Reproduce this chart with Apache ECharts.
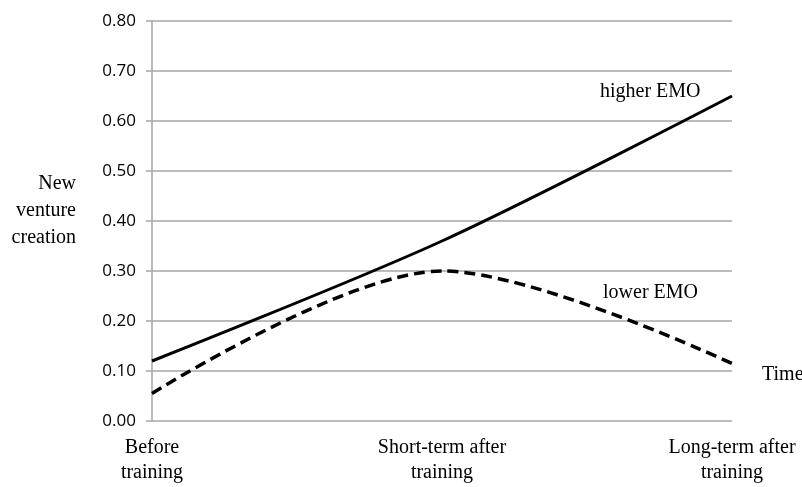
<!DOCTYPE html>
<html>
<head>
<meta charset="utf-8">
<script src="https://cdn.jsdelivr.net/npm/echarts@6/dist/echarts.min.js"></script>
<style>
  html, body { margin: 0; padding: 0; background: #fff; }
  #chart { width: 802px; height: 487px; }
</style>
</head>
<body>
<div id="chart"></div>
<script>
const categories = ['Before\ntraining', 'Short-term after\ntraining', 'Long-term after\ntraining'];
const higherEMO = [0.12, 0.36, 0.65];
const lowerEMO = [0.055, 0.30, 0.115];

const serif = '"Liberation Serif", "DejaVu Serif", serif';
const gridColor = '#a6a6a6';

const chart = echarts.init(document.getElementById('chart'), null, { renderer: 'canvas' });

const option = {
  animation: false,
  backgroundColor: '#fff',
  grid: { left: 152, right: 70, top: 21, bottom: 66 },
  xAxis: {
    type: 'category',
    data: categories,
    boundaryGap: false,
    axisLine: { show: false },
    axisTick: { show: false },
    axisLabel: {
      interval: 0,
      margin: 14,
      fontFamily: serif,
      fontSize: 20,
      lineHeight: 25,
      color: '#000'
    },
    splitLine: { show: false }
  },
  yAxis: {
    type: 'value',
    min: 0,
    max: 0.8,
    interval: 0.1,
    axisLine: { show: true, lineStyle: { color: gridColor, width: 1.5 } },
    axisTick: { show: true, length: 6, lineStyle: { color: gridColor, width: 1.5 } },
    axisLabel: {
      margin: 16,
      fontFamily: '"Open Sans", sans-serif',
      fontSize: 17,
      color: '#000',
      formatter: v => v.toFixed(2)
    },
    splitLine: { show: true, lineStyle: { color: gridColor, width: 1.5 } }
  },
  series: [
    {
      name: 'higher EMO',
      type: 'line',
      data: higherEMO,
      smooth: 0.3,
      symbol: 'none',
      lineStyle: { color: '#000', width: 3 }
    },
    {
      name: 'lower EMO',
      type: 'line',
      data: lowerEMO,
      smooth: 0.32,
      symbol: 'none',
      lineStyle: { color: '#000', width: 3.5, type: [11, 6] }
    }
  ],
  graphic: [
    {
      type: 'text', x: 76, y: 211,
      style: {
        text: 'New\nventure\ncreation', font: '20px ' + serif,
        fill: '#000', align: 'right', verticalAlign: 'middle', lineHeight: 27
      }
    },
    {
      type: 'text', x: 600, y: 92,
      style: { text: 'higher EMO', font: '20px ' + serif, fill: '#000', verticalAlign: 'middle' }
    },
    {
      type: 'text', x: 603, y: 293,
      style: { text: 'lower EMO', font: '20px ' + serif, fill: '#000', verticalAlign: 'middle' }
    },
    {
      type: 'text', x: 762, y: 375,
      style: { text: 'Time', font: '20px ' + serif, fill: '#000', verticalAlign: 'middle' }
    }
  ]
};

chart.setOption(option);
</script>
</body>
</html>
